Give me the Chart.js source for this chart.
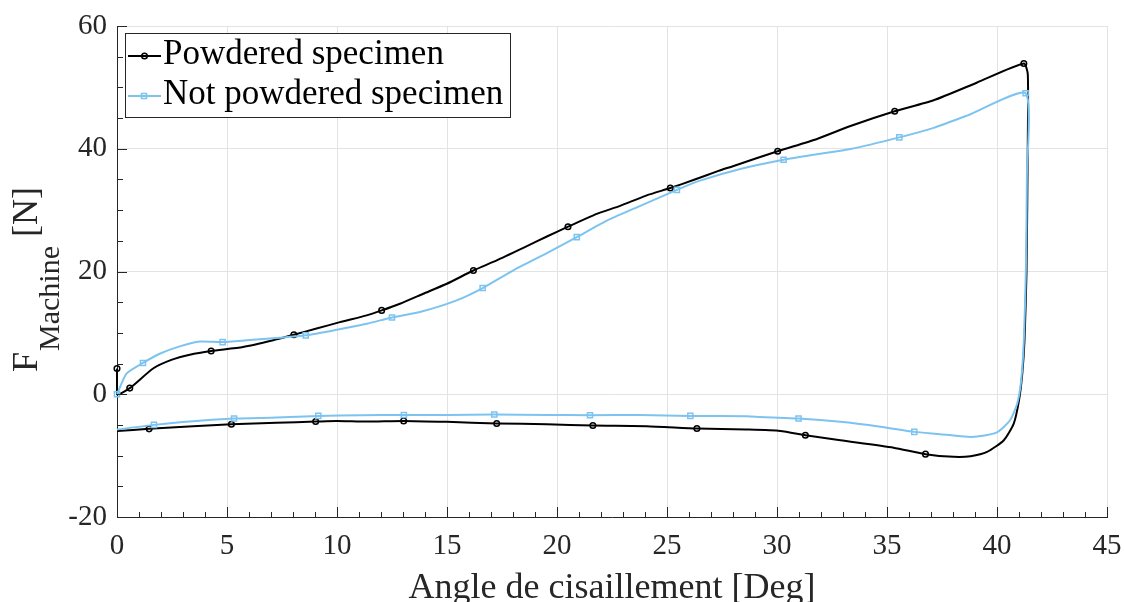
<!DOCTYPE html>
<html><head><meta charset="utf-8">
<script src="https://cdn.jsdelivr.net/npm/chart.js@4.4.1/dist/chart.umd.min.js"></script>
<style>html,body{margin:0;padding:0;background:#fff;overflow:hidden}canvas{display:block}</style>
</head><body>
<canvas id="c" width="1124" height="602"></canvas>
<script>
// ---- Data ----
const seriesNames = ['Powdered specimen', 'Not powdered specimen'];

const powderedX = [0, 0, 0.58, 1.64, 2.47, 3.31, 4.28, 5.73, 7.1, 8.04, 9.07, 10.13, 11.35, 12.03, 12.86, 13.92, 14.99, 16.2, 17.26, 18.47, 19.54, 20.5, 21.81, 22.87, 24.08, 25.15, 26.2, 27.34, 28.03, 30.03, 31.82, 33.34, 35.35, 37.12, 39.1, 41.22,
  41.4, 41.4, 41.34, 41.25, 41.15, 41.0, 40.76, 40.31, 39.55, 38.8, 38.03, 36.75, 35.3, 32.88, 31.29, 30.15, 28.6, 26.36, 24.08, 21.63, 19.54, 17.26, 14.99, 13.03, 11.35, 9.98, 9.03, 7.25, 5.2, 3.46, 1.46, 0];
const powderedY = [4.2, 0, 1.0, 4.2, 5.6, 6.45, 7.05, 7.7, 8.8, 9.7, 10.7, 11.75, 12.85, 13.66, 14.75, 16.37, 18.0, 20.16, 21.8, 23.85, 25.7, 27.3, 29.4, 30.7, 32.4, 33.6, 34.9, 36.4, 37.2, 39.6, 41.6, 43.7, 46.1, 47.9, 50.8, 53.9,
  52.1, 41.3, 19.7, 8.8, 3.4, -1.0, -4.8, -7.5, -9.4, -10.1, -10.2, -9.76, -8.7, -7.5, -6.67, -5.97, -5.75, -5.58, -5.2, -5.1, -4.88, -4.77, -4.5, -4.34, -4.45, -4.34, -4.45, -4.66, -4.88, -5.2, -5.64, -6.0];
const powderedMarkers = [0, 2, 6, 9, 13, 17, 21, 25, 29, 32, 35, 47, 50, 53, 55, 57, 59, 62, 64, 66];

const notPowderedX = [0, 0.43, 1.18, 1.94, 2.85, 3.76, 4.8, 5.89, 7.4, 8.58, 9.83, 11.35, 12.5, 13.77, 15.44, 16.62, 18.02, 19.54, 20.9, 22.27, 23.63, 25.45, 26.5, 28.33, 30.3, 31.82, 33.34, 35.56, 37.12, 38.64, 41.3,
  41.36, 41.31, 41.22, 41.1, 40.92, 40.6, 40.0, 39.1, 38.64, 37.43, 36.24, 34.7, 32.88, 30.98, 29.24, 28.64, 26.06, 23.78, 21.5, 19.54, 17.15, 14.99, 13.04, 11.04, 9.15, 7.25, 5.32, 3.46, 1.68, 0];
const notPowderedY = [0, 3.37, 5.1, 6.6, 7.8, 8.6, 8.5, 8.78, 9.2, 9.6, 10.4, 11.5, 12.5, 13.4, 15.3, 17.3, 20.2, 23.0, 25.6, 28.3, 30.45, 33.3, 34.8, 36.7, 38.2, 39.1, 39.95, 41.85, 43.4, 45.4, 49.05,
  35.9, 19.6, 8.8, 2.3, -1.5, -4.2, -6.2, -6.9, -6.94, -6.5, -6.13, -5.3, -4.5, -3.96, -3.7, -3.58, -3.53, -3.37, -3.42, -3.37, -3.3, -3.37, -3.37, -3.42, -3.53, -3.8, -3.96, -4.4, -4.99, -5.75];
const notPowderedMarkers = [0, 2, 6, 9, 12, 15, 18, 21, 24, 27, 30, 41, 44, 47, 49, 51, 53, 55, 57, 59];

const xTickLabels = ['0', '5', '10', '15', '20', '25', '30', '35', '40', '45'];
const yTickLabels = ['-20', '0', '20', '40', '60'];
const xTitle = 'Angle de cisaillement [Deg]';
const yTitleMain = 'F', yTitleSub = 'Machine', yTitleUnit = '[N]';

// ---- Styling ----
const SERIF = '"Liberation Serif", "DejaVu Serif", serif';
const AXIS_COLOR = '#262626';
const BLACK = '#000000';
const BLUE = 'rgb(125,195,240)';

function pts(xs, ys) { return xs.map((x, i) => ({ x: x, y: ys[i] })); }
function markerRadius(list, r) { const s = new Set(list); return ctx => s.has(ctx.dataIndex) ? r : 0; }

const minorTicks = {
  id: 'minorTicks',
  afterDatasetsDraw(chart) {
    const { ctx, chartArea: a, scales: { x, y } } = chart;
    ctx.save();
    ctx.strokeStyle = AXIS_COLOR; ctx.lineWidth = 1;
    ctx.beginPath();
    for (let v = x.min; v <= x.max; v += 1) {
      const px = Math.round(x.getPixelForValue(v)) + 0.5;
      const len = (v % 5 === 0) ? 10 : 5;
      ctx.moveTo(px, a.bottom); ctx.lineTo(px, a.bottom - len);
    }
    for (let v = y.min; v <= y.max; v += 5) {
      const py = Math.round(y.getPixelForValue(v)) + 0.5;
      const len = (v % 20 === 0) ? 10 : 6;
      ctx.moveTo(a.left, py); ctx.lineTo(a.left + len, py);
    }
    ctx.stroke();
    ctx.restore();
  }
};

const titlesAndLegend = {
  id: 'titlesAndLegend',
  afterDraw(chart) {
    const { ctx, chartArea: a } = chart;
    ctx.save();
    // x title
    ctx.fillStyle = AXIS_COLOR;
    ctx.font = '36px ' + SERIF;
    ctx.textAlign = 'center'; ctx.textBaseline = 'alphabetic';
    ctx.fillText(xTitle, (a.left + a.right) / 2, 598);
    // y title (rotated)
    ctx.translate(37, 372);
    ctx.rotate(-Math.PI / 2);
    ctx.textAlign = 'left';
    ctx.font = '36px ' + SERIF;
    ctx.fillText(yTitleMain, 0, 0);
    let w = ctx.measureText(yTitleMain).width;
    ctx.font = '30px ' + SERIF;
    ctx.fillText(yTitleSub, w + 1, 22);
    w += 1 + ctx.measureText(yTitleSub).width;
    ctx.font = '36px ' + SERIF;
    ctx.fillText(' ' + yTitleUnit, w, 0);
    ctx.restore();

    // legend box
    ctx.save();
    const bx = 125.5, by = 33.5, bw = 385, bh = 84;
    ctx.fillStyle = '#ffffff';
    ctx.fillRect(bx, by, bw, bh);
    ctx.strokeStyle = '#262626'; ctx.lineWidth = 1;
    ctx.strokeRect(bx, by, bw, bh);
    const rows = [56, 96];
    const bases = [63.5, 103.5];
    chart.data.datasets.forEach((ds, i) => {
      const yy = rows[i];
      ctx.strokeStyle = ds.borderColor; ctx.lineWidth = 2;
      ctx.beginPath(); ctx.moveTo(128, yy); ctx.lineTo(161, yy); ctx.stroke();
      ctx.lineWidth = 1.5;
      if (ds.pointStyle === 'rect') {
        ctx.strokeRect(141.5, yy - 2.5, 5, 5);
      } else {
        ctx.beginPath(); ctx.arc(144.5, yy, 2.8, 0, Math.PI * 2); ctx.stroke();
      }
      ctx.fillStyle = '#000';
      ctx.font = '35px ' + SERIF;
      ctx.textAlign = 'left'; ctx.textBaseline = 'alphabetic';
      ctx.fillText(ds.label, 163, bases[i]);
    });
    ctx.restore();
  }
};

new Chart(document.getElementById('c'), {
  type: 'scatter',
  data: {
    datasets: [
      {
        label: seriesNames[0],
        data: pts(powderedX, powderedY),
        showLine: true,
        borderColor: BLACK, borderWidth: 2,
        pointStyle: 'circle',
        pointRadius: markerRadius(powderedMarkers, 2.8),
        pointBorderWidth: 1.5,
        pointBorderColor: BLACK,
        pointBackgroundColor: 'rgba(255,255,255,0)',
        tension: 0.2,
        clip: false,
        order: 1
      },
      {
        label: seriesNames[1],
        data: pts(notPowderedX, notPowderedY),
        showLine: true,
        borderColor: BLUE, borderWidth: 2,
        pointStyle: 'rect',
        pointRadius: markerRadius(notPowderedMarkers, 3.6),
        pointBorderWidth: 1.5,
        pointBorderColor: BLUE,
        pointBackgroundColor: 'rgba(255,255,255,0)',
        tension: 0.2,
        clip: false,
        order: 0
      }
    ]
  },
  options: {
    responsive: false,
    devicePixelRatio: 1,
    animation: false,
    events: [],
    layout: { padding: { top: 26, right: 17, left: 0, bottom: 0 } },
    plugins: { legend: { display: false }, tooltip: { enabled: false } },
    scales: {
      x: {
        type: 'linear', position: 'bottom', min: 0, max: 45,
        afterFit(s) { s.height = 85; s.paddingRight = 0; s.paddingLeft = 0; },
        afterBuildTicks(s) { s.ticks = xTickLabels.map(t => ({ value: Number(t) })); },
        ticks: { callback: (v) => String(v), font: { family: SERIF, size: 29 }, color: AXIS_COLOR, padding: 12, maxRotation: 0, autoSkip: false },
        grid: { color: '#e3e3e3', lineWidth: 1, drawTicks: false },
        border: { display: true, color: AXIS_COLOR, width: 1 }
      },
      y: {
        type: 'linear', position: 'left', min: -20, max: 60,
        afterFit(s) { s.width = 117; s.paddingTop = 0; s.paddingBottom = 0; },
        afterBuildTicks(s) { s.ticks = yTickLabels.map(t => ({ value: Number(t) })); },
        ticks: { callback: (v) => String(v), font: { family: SERIF, size: 29 }, color: AXIS_COLOR, padding: 10, autoSkip: false },
        grid: { color: '#e3e3e3', lineWidth: 1, drawTicks: false },
        border: { display: true, color: AXIS_COLOR, width: 1 }
      }
    }
  },
  plugins: [minorTicks, titlesAndLegend]
});
</script>
</body></html>
